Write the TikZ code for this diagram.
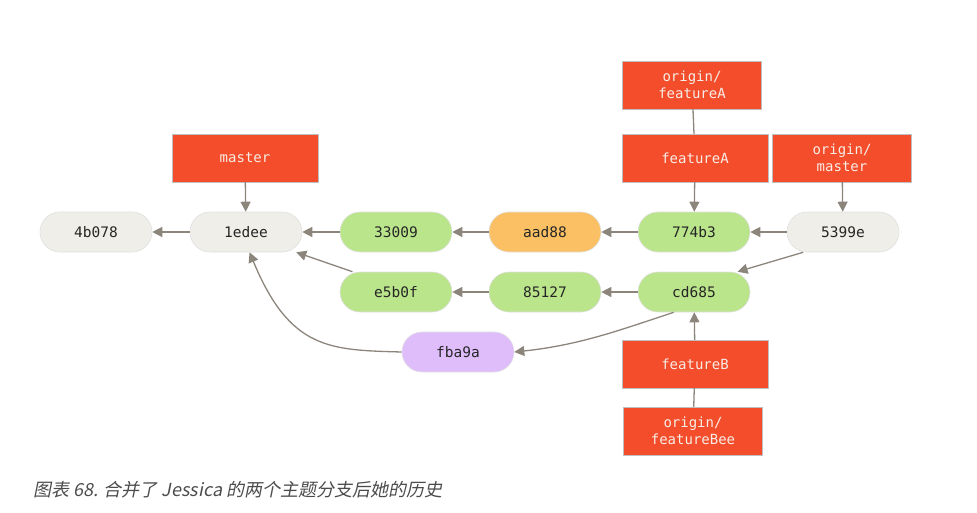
\documentclass[tikz,border=0pt]{standalone}
\usepackage{fontspec}
\setmonofont{DejaVu Sans Mono}
\newfontfamily\cjk[FakeSlant=0.2]{Noto Sans CJK SC}
\usetikzlibrary{arrows.meta}
\definecolor{cgreen}{HTML}{BAE58B}
\definecolor{corange}{HTML}{FBC063}
\definecolor{cgray}{HTML}{EFEEE8}
\definecolor{cpurple}{HTML}{DFBDFB}
\definecolor{cred}{HTML}{F34D2B}
\definecolor{carrow}{HTML}{8C857C}
\definecolor{clabel}{HTML}{F8EDE6}
\tikzset{
  commit/.style={draw=black!12, line width=0.6pt, rounded corners=20pt, minimum width=112pt, minimum height=40pt, inner sep=0pt, font=\ttfamily\fontsize{14.5}{16}\selectfont, text=black!85},
  gcommit/.style={commit, fill=cgreen},
  ocommit/.style={commit, fill=corange},
  wcommit/.style={commit, fill=cgray},
  pcommit/.style={commit, fill=cpurple},
  ref/.style={draw=black!25, line width=0.4pt, fill=cred, minimum height=48pt, inner sep=0pt, align=center, font=\ttfamily\fontsize{14}{17}\selectfont, text=clabel},
  link/.style={draw=carrow, line width=1.3pt, -{Triangle[length=10pt,width=10pt]}},
  plain/.style={draw=carrow, line width=1.3pt},
}
\begin{document}
\begin{tikzpicture}[x=1pt,y=-1pt]
\useasboundingbox (0,0) rectangle (977,512);
\node[wcommit] (c4b) at (96,232) {4b078};
\node[wcommit] (c1e) at (246,232) {1edee};
\node[gcommit] (c33) at (396,232) {33009};
\node[ocommit] (caa) at (545,232) {aad88};
\node[gcommit] (c77) at (694,232) {774b3};
\node[wcommit] (c53) at (843,232) {5399e};
\node[gcommit] (ce5) at (396,292) {e5b0f};
\node[gcommit] (c85) at (545,292) {85127};
\node[gcommit] (ccd) at (694,292) {cd685};
\node[pcommit] (cfb) at (458,352) {fba9a};

\node[ref, minimum width=146pt] (master) at (245,158) {master};
\node[ref, minimum width=139pt] (ofa) at (692,85) {origin/\\featureA};
\node[ref, minimum width=146pt] (fa) at (695,158) {featureA};
\node[ref, minimum width=139pt] (om) at (842,158) {origin/\\master};
\node[ref, minimum width=146pt] (fb) at (695,364) {featureB};
\node[ref, minimum width=139pt] (ofb) at (693,431) {origin/\\featureBee};

\draw[link] (c1e) -- (c4b);
\draw[link] (c33) -- (c1e);
\draw[link] (caa) -- (c33);
\draw[link] (c77) -- (caa);
\draw[link] (c53) -- (c77);
\draw[link] (ccd) -- (c85);
\draw[link] (c85) -- (ce5);
\draw[link] (c53.207) -- (ccd.25);
\draw[link] (ce5.155) -- (c1e.-22);
\draw[link] (ccd.225) .. controls (620,330) and (580,345) .. (cfb.east);
\draw[link] (cfb.west) .. controls (330,350) and (290,350) .. (c1e.-80) ;
\draw[link] (master) -- (c1e);
\draw[link] (fa) -- (c77);
\draw[link] (om) -- (c53);
\draw[link] (fb) -- (ccd);
\draw[plain] (ofa) -- (fa);
\draw[plain] (ofb) -- (fb);

\node[anchor=west, inner sep=0pt, text=black!70, font=\cjk\fontsize{18}{21}\selectfont] (cap) at (33,490) {图表 68. 合并了 Jessica 的两个主题分支后她的历史};
\end{tikzpicture}
\end{document}
